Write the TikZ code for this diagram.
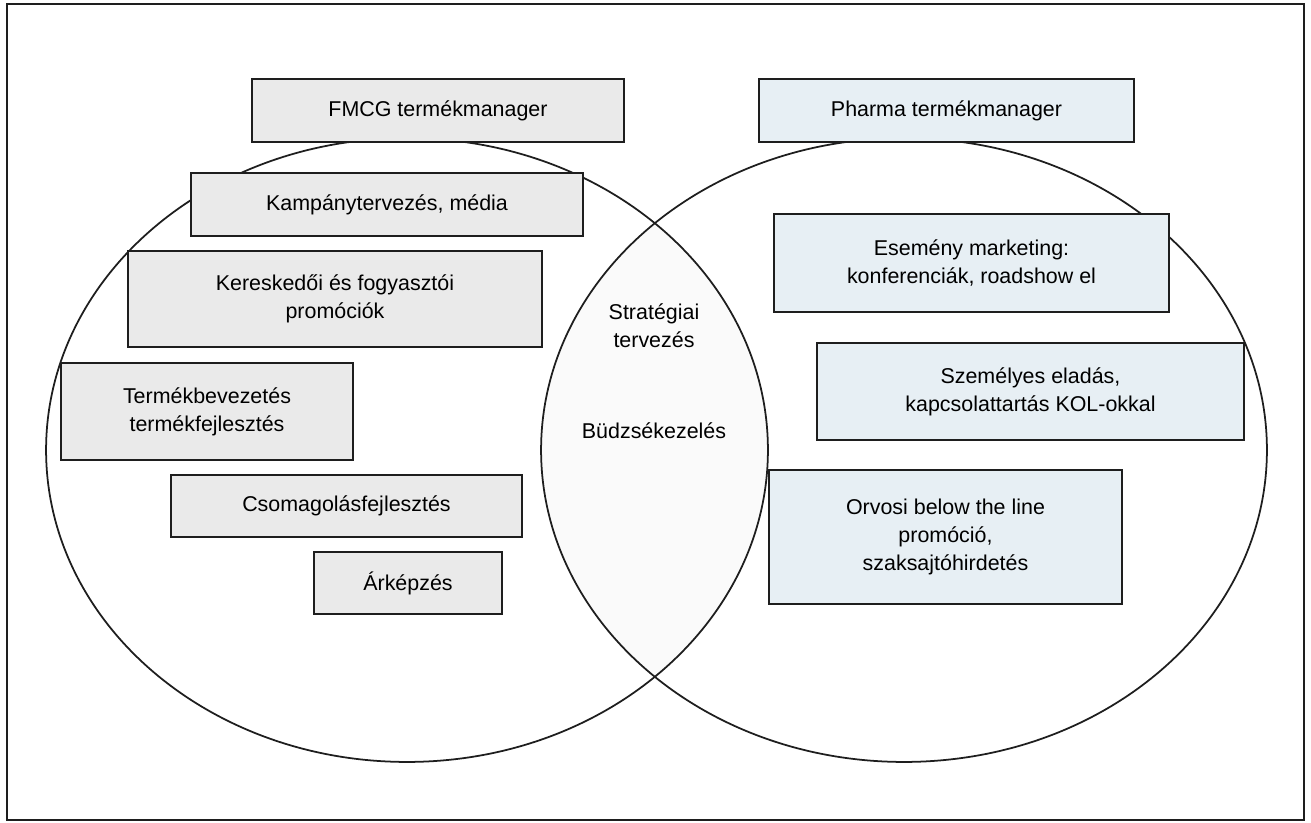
\documentclass[tikz,border=0pt]{standalone}
\usepackage{fontspec}
\setmainfont{Liberation Sans}
\usepackage{xcolor}
\definecolor{vennDark}{HTML}{1E1E1E}
\definecolor{vennGray}{HTML}{EAEAEA}
\definecolor{vennBlue}{HTML}{E7EFF4}
\definecolor{vennLens}{HTML}{FAFAFA}
\usepackage{tikz}
\usetikzlibrary{shapes.geometric,positioning}
\tikzset{
    frame/.style={
        draw=vennDark,
        line width=1.2pt
    },
    venn/.style={
        draw=vennDark,
        ellipse,
        line width=1pt,
        inner sep=0pt
    },
    fmcgbox/.style={
        draw=vennDark,
        fill=vennGray,
        rectangle,
        align=center,
        inner sep=0pt,
        line width=0.9pt,
        font=\fontsize{12.2}{16}\selectfont
    },
    pharmabox/.style={
        fmcgbox,
        fill=vennBlue
    },
    common/.style={
        align=center,
        inner sep=0pt,
        font=\fontsize{12.2}{16}\selectfont
    }
}

\begin{document}
\begin{tikzpicture}[x=0.02cm, y=-0.02cm]
    \useasboundingbox (0,0) rectangle (1311,822);
    % outer frame
    \draw[frame] (7,4) rectangle (1304,820);

    % the two sets
    \begin{scope}
        \clip (407,450) ellipse [x radius=7.22cm, y radius=6.24cm];
        \fill[vennLens] (904,450) ellipse [x radius=7.26cm, y radius=6.24cm];
    \end{scope}
    \node[venn, minimum width=14.44cm, minimum height=12.48cm] (fmcgset) at (407,450) {};
    \node[venn, minimum width=14.52cm, minimum height=12.48cm] (pharmaset) at (904,450) {};

    % FMCG side
    \node[fmcgbox, minimum width=7.44cm, minimum height=1.26cm] (fmcg) at (438,110.5) {FMCG termékmanager};
    \node[fmcgbox, minimum width=7.84cm, minimum height=1.26cm] (kampany) at (387,204.5) {Kampánytervezés, média};
    \node[fmcgbox, minimum width=8.28cm, minimum height=1.92cm] (promo) at (335,299) {Kereskedői és fogyasztói\\promóciók};
    \node[fmcgbox, minimum width=5.84cm, minimum height=1.94cm] (bevezetes) at (207,411.5) {Termékbevezetés\\termékfejlesztés};
    \node[fmcgbox, minimum width=7.02cm, minimum height=1.24cm] (csomag) at (346.5,506) {Csomagolásfejlesztés};
    \node[fmcgbox, minimum width=3.76cm, minimum height=1.24cm] (arkepzes) at (408,583) {Árképzés};

    % Pharma side
    \node[pharmabox, minimum width=7.5cm, minimum height=1.26cm] (pharma) at (946.5,110.5) {Pharma termékmanager};
    \node[pharmabox, minimum width=7.9cm, minimum height=1.96cm] (esemeny) at (971.5,263) {Esemény marketing:\\konferenciák, roadshow el};
    \node[pharmabox, minimum width=8.54cm, minimum height=1.94cm] (eladas) at (1030.5,391.5) {Személyes eladás,\\kapcsolattartás KOL-okkal};
    \node[pharmabox, minimum width=7.06cm, minimum height=2.68cm] (orvosi) at (945.5,537) {Orvosi below the line\\promóció,\\szaksajtóhirdetés};

    % common part
    \node[common] (strategia) at (654,326) {Stratégiai\\tervezés};
    \node[common] (budzse) at (654,431) {Büdzsékezelés};
\end{tikzpicture}
\end{document}
